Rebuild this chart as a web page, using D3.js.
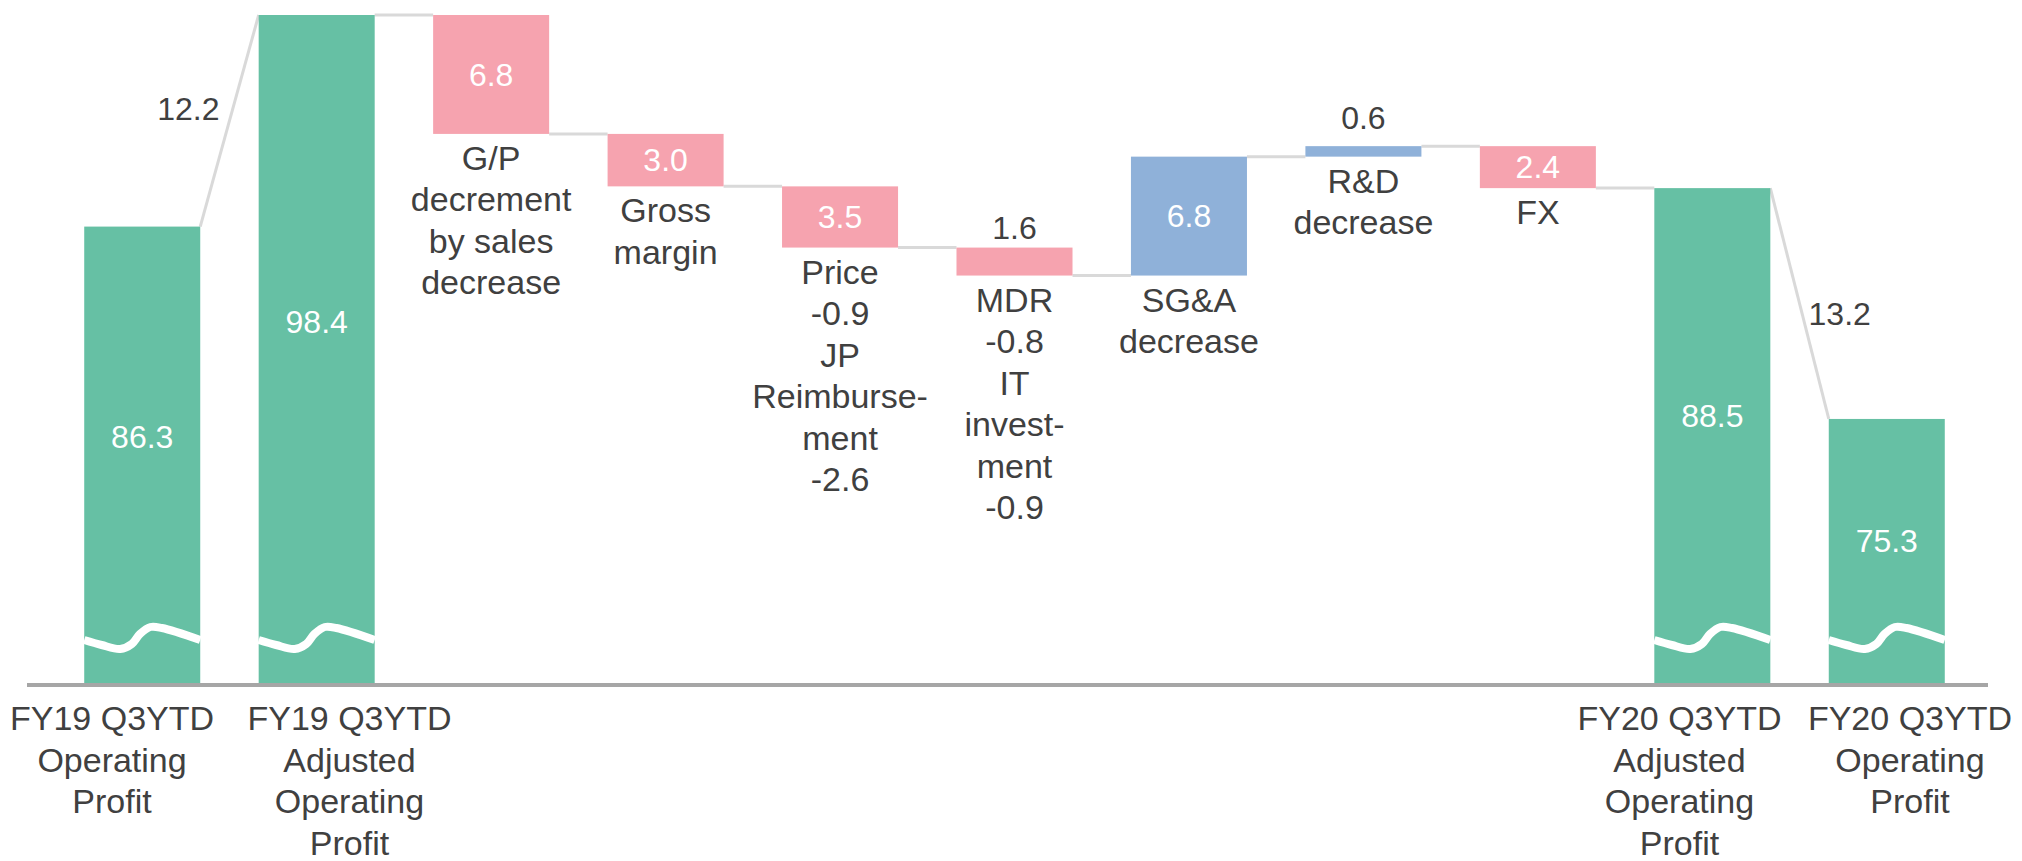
<!DOCTYPE html>
<html>
<head>
<meta charset="utf-8">
<script src="https://cdn.jsdelivr.net/npm/d3@7"></script>
<style>
    body { margin: 0; background: #fff; }
    svg { display: block; font-family: "Liberation Sans", Arial, sans-serif; }
</style>
</head>
<body>
<script>
const WIDTH = 2022;
const HEIGHT = 861;

// Waterfall steps
const categories = [
    "FY19 Q3YTD\nOperating\nProfit",
    "FY19 Q3YTD\nAdjusted\nOperating\nProfit",
    "G/P\ndecrement\nby sales\ndecrease",
    "Gross\nmargin",
    "Price\n-0.9\nJP\nReimburse-\nment\n-2.6",
    "MDR\n-0.8\nIT\ninvest-\nment\n-0.9",
    "SG&A\ndecrease",
    "R&D\ndecrease",
    "FX",
    "FY20 Q3YTD\nAdjusted\nOperating\nProfit",
    "FY20 Q3YTD\nOperating\nProfit"
];
const kinds = ["total", "total", "down", "down", "down", "down", "up", "up", "down", "total", "total"];
const values = [86.3, 98.4, 6.8, 3.0, 3.5, 1.6, 6.8, 0.6, 2.4, 88.5, 75.3];
// adjustments between consecutive totals (FY19 OP -> adjusted, FY20 adjusted -> OP)
const bridgeValues = [12.2, 13.2];

const colors = { total: "#66c0a4", down: "#f6a3af", up: "#8fb1d9" };
const textColor = "#404040";

const svg = d3.select("body").append("svg")
    .attr("width", WIDTH)
    .attr("height", HEIGHT);

const x = d3.scaleBand()
    .domain(d3.range(categories.length))
    .range([55, 1974])
    .paddingInner(0.335)
    .paddingOuter(0.1675);

// broken axis: bars start at the axis line
const y = d3.scaleLinear().domain([60.2, 98.4]).range([683, 15]);
const base = y.domain()[0];
const bw = x.bandwidth();

// compute running totals
let run = 0;
const bars = values.map((v, i) => {
    let lo, hi;
    if (kinds[i] === "total") { lo = base; hi = v; run = v; }
    else if (kinds[i] === "down") { lo = run - v; hi = run; run = lo; }
    else { lo = run; hi = run + v; run = hi; }
    return { i, v, kind: kinds[i], lo, hi, end: run, label: categories[i].split("\n") };
});

// --- connectors ---
const conn = svg.append("g").attr("stroke", "#d9d9d9").attr("stroke-width", 3).attr("fill", "none");
let bridgeIdx = 0;
const bridgeLabels = [];
for (let i = 0; i < bars.length - 1; i++) {
    const a = bars[i], b = bars[i + 1];
    const x1 = x(i) + bw, x2 = x(i + 1);
    if (a.kind === "total" && b.kind === "total") {
        const y1 = y(a.hi), y2 = y(b.hi);
        conn.append("line").attr("x1", x1).attr("y1", y1).attr("x2", x2).attr("y2", y2);
        bridgeLabels.push({ mx: (x1 + x2) / 2, my: (y1 + y2) / 2, up: y2 < y1, text: d3.format(".1f")(bridgeValues[bridgeIdx++]) });
    } else {
        conn.append("line").attr("x1", x1).attr("y1", y(a.end)).attr("x2", x2).attr("y2", y(a.end));
    }
}

// --- bars ---
svg.append("g").selectAll("rect")
    .data(bars)
    .join("rect")
    .attr("x", d => x(d.i))
    .attr("y", d => y(d.hi))
    .attr("width", bw)
    .attr("height", d => y(d.lo) - y(d.hi))
    .attr("fill", d => colors[d.kind]);

// axis break squiggles on the total bars
const wave = [[0, 43], [0.15, 38], [0.31, 34], [0.41, 39], [0.48, 49], [0.57, 56], [0.67, 55], [1, 43]];
const waveLine = d3.line().curve(d3.curveCatmullRom);
svg.append("g").selectAll("path")
    .data(bars.filter(d => d.kind === "total"))
    .join("path")
    .attr("d", d => waveLine(wave.map(p => [x(d.i) + p[0] * bw, y(base) - p[1]])))
    .attr("fill", "none")
    .attr("stroke", "#fff")
    .attr("stroke-width", 8);

// axis line
svg.append("line")
    .attr("x1", 27).attr("x2", 1988)
    .attr("y1", y(base) + 2).attr("y2", y(base) + 2)
    .attr("stroke", "#a6a6a6").attr("stroke-width", 4);

// --- value labels ---
const fmt = d3.format(".1f");
const thin = d => d.kind !== "total" && y(d.lo) - y(d.hi) < 35;
svg.append("g").selectAll("text")
    .data(bars)
    .join("text")
    .attr("x", d => x(d.i) + bw / 2)
    .attr("y", d => {
        const top = y(d.hi), bot = y(d.lo);
        if (d.kind === "total") return top + (bot - top) * 0.46;
        if (thin(d)) return (top + bot) / 2 - 34;
        return (top + bot) / 2;
    })
    .attr("dy", "0.35em")
    .attr("text-anchor", "middle")
    .attr("font-size", 32)
    .attr("fill", d => thin(d) ? textColor : "#fff")
    .text(d => fmt(d.v));

// bridge labels next to the slanted connectors
svg.append("g").selectAll("text")
    .data(bridgeLabels)
    .join("text")
    .attr("x", d => d.up ? d.mx - 10 : d.mx + 9)
    .attr("y", d => d.up ? d.my - 12 : d.my + 10)
    .attr("dy", "0.35em")
    .attr("text-anchor", d => d.up ? "end" : "start")
    .attr("font-size", 32)
    .attr("fill", textColor)
    .text(d => d.text);

// --- category labels ---
const LINE_H = 41.5;
const catG = svg.append("g")
    .attr("font-size", 34)
    .attr("fill", textColor)
    .attr("text-anchor", "middle");

const catLabels = catG.selectAll("text")
    .data(bars)
    .join("text")
    .attr("x", d => x(d.i) + bw / 2)
    .attr("y", d => d.kind === "total" ? 730 : y(d.lo) + 36);

catLabels.selectAll("tspan")
    .data(d => d.label)
    .join("tspan")
    .attr("x", function() { return this.parentNode.getAttribute("x"); })
    .attr("dy", (d, i) => i === 0 ? 0 : LINE_H)
    .text(d => d);

// push apart total labels that overlap each other
const totals = [];
catLabels.each(function(d) {
    if (d.kind !== "total") return;
    const w = d3.max(Array.from(this.querySelectorAll("tspan")), t => t.getComputedTextLength());
    totals.push({ node: this, cx: x(d.i) + bw / 2, w });
});
const GAP = 36;
for (let k = 0; k < totals.length - 1; k++) {
    const a = totals[k], b = totals[k + 1];
    const need = a.w / 2 + b.w / 2 + GAP - (b.cx - a.cx);
    if (need > 0) { a.cx -= need / 2; b.cx += need / 2; }
}
totals.forEach(t => {
    t.cx = Math.max(t.w / 2 + 10, Math.min(WIDTH - t.w / 2 - 10, t.cx));
    d3.select(t.node).attr("x", t.cx).selectAll("tspan").attr("x", t.cx);
});
</script>
</body>
</html>
